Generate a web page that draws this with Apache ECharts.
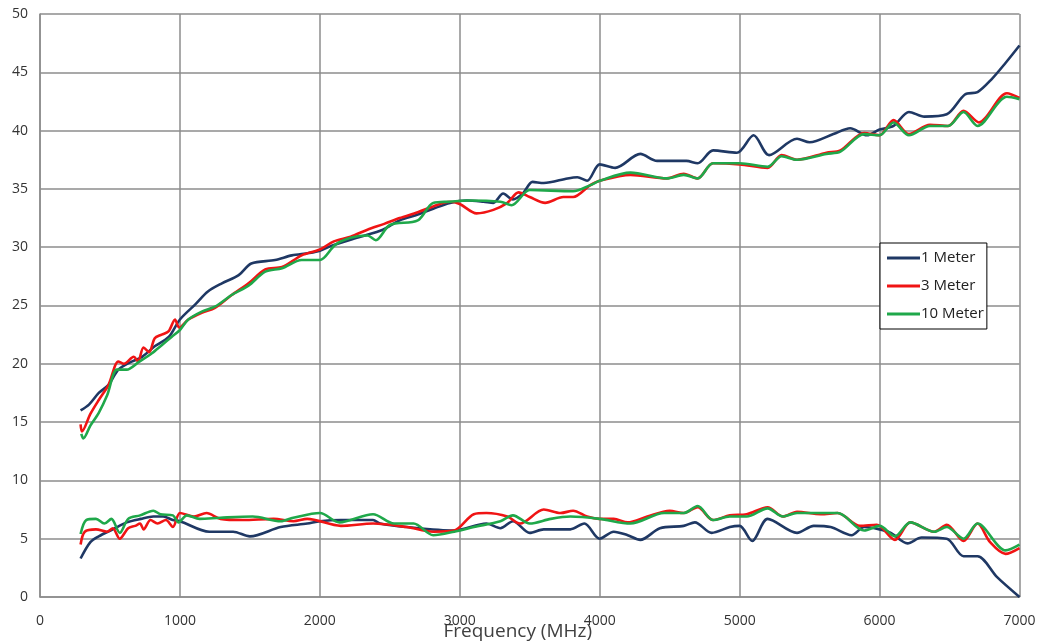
<!DOCTYPE html>
<html>
<head>
<meta charset="utf-8">
<script src="https://cdn.jsdelivr.net/npm/echarts@6/dist/echarts.min.js"></script>
<style>html,body{margin:0;padding:0;background:#fff}#c{width:1039px;height:644px}</style>
</head>
<body>
<div id="c"></div>
<script>
// ---- data (frequency in MHz, value) ----
const seriesNames = ['1 Meter', '3 Meter', '10 Meter'];

const upper1mFreq = [290,350,420,490,560,640,730,820,920,1000,1110,1200,1300,1420,1510,1680,1800,1920,2000,2100,2290,2450,2570,2700,2810,2930,3050,3170,3240,3310,3380,3450,3520,3600,3770,3840,3910,4000,4110,4290,4410,4620,4700,4810,4980,5100,5210,5410,5500,5670,5790,5910,6000,6100,6210,6320,6480,6610,6700,6800,6900,7000];
const upper1mVal  = [16.0,16.5,17.5,18.2,19.5,20.1,20.6,21.5,22.3,23.8,25.1,26.2,26.9,27.6,28.6,28.9,29.3,29.5,29.7,30.2,30.9,31.5,32.3,32.8,33.3,33.8,34.0,33.9,33.8,34.6,34.1,34.6,35.6,35.5,35.9,36.0,35.7,37.1,36.8,38.0,37.4,37.4,37.2,38.3,38.1,39.6,37.9,39.3,39.0,39.7,40.2,39.6,40.1,40.4,41.6,41.2,41.4,43.1,43.3,44.4,45.8,47.3];

const upper3mFreq = [290,300,360,420,490,560,600,670,700,740,780,820,870,920,965,995,1060,1160,1250,1370,1490,1610,1730,1870,2000,2100,2220,2340,2460,2570,2700,2810,2930,3000,3120,3240,3340,3420,3500,3610,3740,3810,3930,4000,4220,4480,4600,4700,4810,5000,5200,5300,5410,5620,5720,5890,6000,6100,6210,6360,6490,6600,6710,6910,7000];
const upper3mVal  = [14.8,14.2,15.7,16.9,18.2,20.2,20.0,20.6,20.2,21.4,21.0,22.2,22.5,22.8,23.8,23.1,23.8,24.4,24.8,25.9,26.9,28.1,28.3,29.3,29.8,30.5,30.9,31.5,32.0,32.5,33.0,33.5,33.9,33.7,32.9,33.2,33.8,34.7,34.3,33.8,34.3,34.3,35.3,35.7,36.2,35.9,36.3,35.9,37.2,37.1,36.8,37.9,37.5,38.1,38.3,39.8,39.6,40.9,39.7,40.5,40.4,41.7,40.7,43.2,42.8];

const upper10mFreq = [295,310,360,420,480,550,620,700,800,870,940,1000,1060,1160,1250,1370,1490,1610,1730,1870,1940,2000,2110,2220,2340,2400,2500,2700,2810,2930,3050,3290,3370,3500,3810,3930,4000,4220,4480,4600,4700,4810,5000,5200,5300,5410,5620,5720,5890,6000,6100,6210,6360,6490,6600,6700,6910,7000];
const upper10mVal  = [14.0,13.6,14.7,15.8,17.3,19.5,19.5,20.1,20.9,21.6,22.3,22.9,23.8,24.5,24.9,25.9,26.7,27.9,28.2,28.9,28.9,28.9,30.2,30.8,31.0,30.6,31.9,32.3,33.8,33.9,34.0,33.9,33.6,34.9,34.8,35.3,35.7,36.4,35.9,36.2,35.9,37.2,37.2,36.9,37.8,37.5,38.0,38.2,39.7,39.6,40.7,39.6,40.4,40.4,41.6,40.4,42.9,42.7];

const lower1mFreq = [290,360,420,520,620,720,810,880,950,1000,1210,1380,1500,1720,1910,2000,2150,2380,2430,2620,2960,3190,3290,3380,3500,3600,3790,3890,4000,4100,4200,4290,4430,4600,4680,4800,4930,5000,5090,5200,5410,5530,5650,5800,5890,6000,6080,6200,6300,6480,6600,6700,6840,7000];
const lower1mVal  = [3.3,4.7,5.2,5.8,6.4,6.7,6.9,6.9,6.6,6.5,5.6,5.6,5.2,6.0,6.3,6.5,6.6,6.6,6.3,6.0,5.7,6.3,5.9,6.5,5.5,5.8,5.8,6.3,5.0,5.6,5.3,4.9,5.9,6.1,6.4,5.5,6.0,6.1,4.8,6.7,5.5,6.1,6.0,5.3,6.0,5.8,5.5,4.6,5.1,5.0,3.5,3.5,1.7,0.0];

const lower3mFreq = [290,320,400,480,520,570,630,680,715,740,790,840,900,950,1000,1100,1190,1290,1450,1670,1810,1910,2150,2380,2620,2810,2960,3100,3190,3340,3430,3600,3720,3810,3910,4000,4100,4200,4340,4500,4600,4700,4810,4930,5050,5200,5310,5410,5580,5700,5860,5980,6110,6220,6390,6480,6600,6700,6790,6900,7000];
const lower3mVal  = [4.5,5.6,5.8,5.6,5.9,5.0,5.9,6.1,6.3,5.8,6.6,6.3,6.6,6.0,7.2,6.9,7.2,6.7,6.6,6.7,6.5,6.7,6.1,6.3,6.0,5.6,5.7,7.1,7.2,6.9,6.3,7.5,7.2,7.4,6.9,6.7,6.7,6.4,6.9,7.4,7.2,7.7,6.6,7.0,7.1,7.7,6.9,7.3,7.1,7.2,6.1,6.2,4.9,6.4,5.6,6.2,4.8,6.3,4.7,3.7,4.2];

const lower10mFreq = [290,330,400,460,510,570,630,715,810,860,950,990,1050,1140,1290,1520,1720,1810,2000,2140,2380,2530,2670,2810,2960,3100,3290,3380,3500,3650,3790,4000,4220,4460,4600,4700,4810,4930,5050,5200,5310,5410,5700,5890,6000,6110,6220,6390,6480,6600,6700,6900,7000];
const lower10mVal  = [5.4,6.6,6.7,6.3,6.7,5.5,6.7,7.0,7.4,7.1,7.0,6.4,7.0,6.7,6.8,6.9,6.5,6.8,7.2,6.4,7.1,6.3,6.3,5.3,5.6,6.0,6.5,7.0,6.3,6.7,6.9,6.7,6.3,7.2,7.2,7.8,6.6,6.9,6.9,7.6,6.9,7.2,7.2,5.7,6.1,5.2,6.4,5.6,6.0,5.0,6.3,4.0,4.5];

const xTicks = [0,1000,2000,3000,4000,5000,6000,7000];
const yTicks = [0,5,10,15,20,25,30,35,40,45,50];

const colors = {'1 Meter':'#1f3864','3 Meter':'#f01414','10 Meter':'#1fa84a'};

function pairs(f, v){ return f.map((x,i)=>[x, v[i]]); }
function mk(name, f, v){
  return {
    name: name, type: 'line', data: pairs(f, v), smooth: 0.3,
    showSymbol: false, symbol: 'none',
    lineStyle: {color: colors[name], width: 2.6},
    itemStyle: {color: colors[name]},
    z: 3
  };
}

const chart = echarts.init(document.getElementById('c'), null, {renderer: 'canvas'});
chart.setOption({
  animation: false,
  backgroundColor: '#fff',
  grid: {left: 40, right: 19.5, top: 14, bottom: 47, containLabel: false, outerBoundsMode: 'none'},
  legend: {
    data: seriesNames.map(n => ({name: n, icon: 'rect'})),
    orient: 'vertical',
    left: 880, top: 243,
    itemWidth: 33, itemHeight: 3, itemGap: 12,
    padding: [7, 3, 7, 7],
    backgroundColor: '#fff', borderColor: '#000', borderWidth: 1, borderRadius: 0,
    textStyle: {fontFamily: 'Open Sans', fontSize: 15, color: '#222', lineHeight: 16, padding: [0,0,0,-4]}
  },
  xAxis: {
    type: 'value', min: xTicks[0], max: xTicks[xTicks.length-1], interval: 1000,
    name: 'Frequency (MHz)', nameLocation: 'middle', nameGap: 25, nameMoveOverlap: false,
    nameTextStyle: {fontFamily: 'Open Sans', fontSize: 19, color: '#404040', padding: [0, 24, 0, 0]},
    axisLine: {show: true, lineStyle: {color: '#8c8c8c', width: 1.5}},
    axisTick: {show: false},
    axisLabel: {fontFamily: 'Open Sans', fontSize: 14, color: '#333', margin: 17, formatter: v => String(v)},
    splitLine: {show: true, lineStyle: {color: '#8c8c8c', width: 1.5}}
  },
  yAxis: {
    type: 'value', min: yTicks[0], max: yTicks[yTicks.length-1], interval: 5,
    axisLine: {show: true, lineStyle: {color: '#8c8c8c', width: 1.5}},
    axisTick: {show: false},
    axisLabel: {fontFamily: 'Open Sans', fontSize: 14, color: '#333', margin: 12, formatter: v => String(v)},
    splitLine: {show: true, lineStyle: {color: '#8c8c8c', width: 1.5}}
  },
  series: [
    mk('1 Meter', upper1mFreq, upper1mVal),
    mk('3 Meter', upper3mFreq, upper3mVal),
    mk('10 Meter', upper10mFreq, upper10mVal),
    mk('1 Meter', lower1mFreq, lower1mVal),
    mk('3 Meter', lower3mFreq, lower3mVal),
    mk('10 Meter', lower10mFreq, lower10mVal)
  ]
});
</script>
</body>
</html>
